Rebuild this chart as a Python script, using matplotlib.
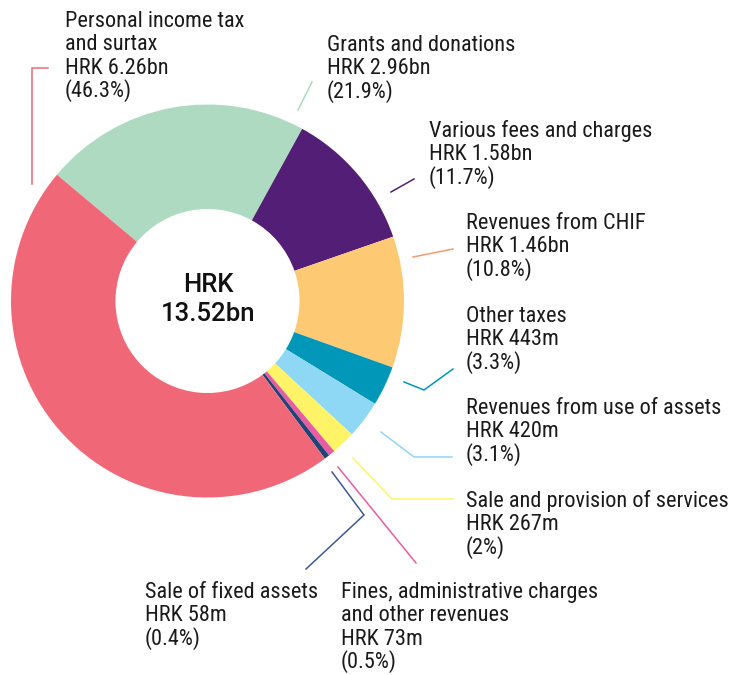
import matplotlib
matplotlib.use("Agg")
import matplotlib.pyplot as plt
from matplotlib import font_manager

# data
categories = [
    "Grants and donations",
    "Various fees and charges",
    "Revenues from CHIF",
    "Other taxes",
    "Revenues from use of assets",
    "Sale and provision of services",
    "Fines, administrative charges\nand other revenues",
    "Sale of fixed assets",
    "Personal income tax\nand surtax",
]
values_bn = [2.96, 1.58, 1.46, 0.443, 0.420, 0.267, 0.073, 0.058, 6.26]
amount_labels = ["HRK 2.96bn", "HRK 1.58bn", "HRK 1.46bn", "HRK 443m", "HRK 420m",
                 "HRK 267m", "HRK 73m", "HRK 58m", "HRK 6.26bn"]
share_labels = ["(21.9%)", "(11.7%)", "(10.8%)", "(3.3%)", "(3.1%)",
                "(2%)", "(0.5%)", "(0.4%)", "(46.3%)"]
total_label = "HRK\n13.52bn"

colors = ["#addac1", "#531e75", "#fec973", "#0097b9", "#8ed7f5",
          "#fff467", "#ea5ca2", "#1f4477", "#f06878"]
line_colors = ["#addac1", "#531e75", "#f59b70", "#0097b9", "#8ed7f5",
               "#fff467", "#ea5ca2", "#3c5a92", "#f06878"]

# layout in pixels, origin at top left
W, H = 731, 675
center = (207.5, 301)
r_out, r_in = 196.5, 92
# (text left x, first baseline y) for each label
label_pos = [(327, 51), (429, 137), (466, 229), (466, 322), (466, 414),
             (466, 507), (341, 598), (145, 598), (65, 27)]
leaders = [
    [(298, 110), (312, 82)],
    [(391, 192), (414, 179)],
    [(413, 257), (453, 249)],
    [(404, 382), (424, 390), (453, 369)],
    [(381, 432), (414, 457), (452, 457)],
    [(353, 458), (392, 499), (453, 499)],
    [(338, 467), (416, 563)],
    [(332, 472), (364, 515), (306, 569)],
    [(48, 68), (32, 68), (32, 184)],
]
line_step = 23.4

# pick a narrow face if one is installed, else Roboto
installed = {f.name for f in font_manager.fontManager.ttflist}
label_font = "Roboto"
for name in ["Liberation Sans Narrow", "Roboto Condensed", "Open Sans Condensed",
             "Noto Sans Condensed", "DejaVu Sans Condensed"]:
    if name in installed:
        label_font = name
        break


def fy(y):
    return H - y


fig = plt.figure(figsize=(W / 100, H / 100), dpi=100)
ax = fig.add_axes([0, 0, 1, 1])
ax.set_xlim(0, W)
ax.set_ylim(0, H)
renderer = fig.canvas.get_renderer()


def size_for_width(text, width_px, **kw):
    t = ax.text(0, 0, text, fontsize=10, **kw)
    w = t.get_window_extent(renderer).width
    t.remove()
    return 10 * width_px / w


label_size = size_for_width("Personal income tax", 178, family=label_font)
center_size = size_for_width("13.52bn", 94, family="Roboto", fontweight="medium")

ax.pie(values_bn, colors=colors, startangle=140, counterclock=False,
       radius=r_out, center=(center[0], fy(center[1])),
       wedgeprops=dict(width=r_out - r_in, linewidth=0))

for pts, c in zip(leaders, line_colors):
    ax.plot([p[0] for p in pts], [fy(p[1]) for p in pts], color=c, lw=1.1,
            solid_joinstyle="miter")

for (x, y), name, amt, share in zip(label_pos, categories, amount_labels, share_labels):
    lines = name.split("\n") + [amt, share]
    for i, t in enumerate(lines):
        ax.text(x, fy(y + i * line_step), t, family=label_font, fontsize=label_size,
                color="#1a1a1a", ha="left", va="baseline")

for i, t in enumerate(total_label.split("\n")):
    ax.text(center[0] + 1, fy(292 + i * 29), t, family="Roboto", fontweight="medium",
            fontsize=center_size, color="#111111", ha="center", va="baseline")

ax.set_xlim(0, W)
ax.set_ylim(0, H)
ax.set_aspect("auto")
ax.axis("off")

fig.savefig("out.png", dpi=100)
